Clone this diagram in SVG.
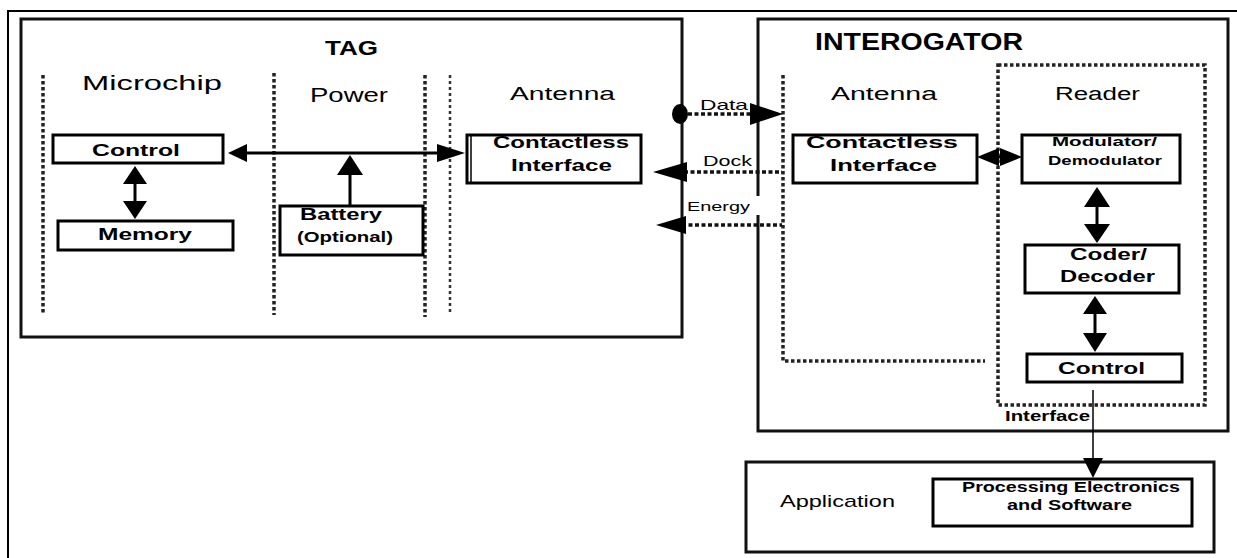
<svg xmlns="http://www.w3.org/2000/svg" width="1237" height="558" viewBox="0 0 1237 558">
<style>
.frame{fill:none;stroke:#000;stroke-width:2}
.cont{fill:none;stroke:#111;stroke-width:3}
.box{fill:#fff;stroke:#000;stroke-width:3}
.dot{fill:none;stroke:#222;stroke-width:3.5;stroke-dasharray:3.5 2.5}
.dot2{fill:none;stroke:#333;stroke-width:2.5;stroke-dasharray:3 3}
.conn{fill:none;stroke:#000;stroke-width:3}
.thin{fill:none;stroke:#000;stroke-width:1.5}
.dline{fill:none;stroke:#111;stroke-width:3.5;stroke-dasharray:4 2.5}
.head{fill:#000}
text{font-family:"Liberation Sans",Arial,sans-serif;fill:#000}
.b{font-weight:bold}
</style>
<rect width="1237" height="558" fill="#fff"/>
<g id="outer-frame">
<path class="frame" d="M8,558 V11 H1237"/>
</g>
<g id="tag">
<rect class="cont" x="21" y="19" width="661" height="318"/>
<text class="b" x="325" y="55" font-size="20" textLength="53" lengthAdjust="spacingAndGlyphs">TAG</text>
</g>
<g id="tag-sections">
<line class="dot" x1="43" y1="75" x2="43" y2="315"/>
<line class="dot" x1="274" y1="73" x2="274" y2="315"/>
<line class="dot" x1="425" y1="75" x2="425" y2="317"/>
<line class="dot2" x1="450" y1="75" x2="450" y2="314"/>
<text x="82" y="90" font-size="21" textLength="140" lengthAdjust="spacingAndGlyphs">Microchip</text>
<text x="310" y="102" font-size="20" textLength="78" lengthAdjust="spacingAndGlyphs">Power</text>
<text x="510" y="100" font-size="18" textLength="105" lengthAdjust="spacingAndGlyphs">Antenna</text>
</g>
<g id="interrogator">
<rect class="cont" x="758" y="19" width="470" height="412"/>
<text class="b" x="815" y="50" font-size="24" textLength="208" lengthAdjust="spacingAndGlyphs">INTEROGATOR</text>
</g>
<g id="int-antenna-section">
<path class="dot" d="M783,75 V361 H985"/>
<text x="831" y="100" font-size="18" textLength="106" lengthAdjust="spacingAndGlyphs">Antenna</text>
</g>
<g id="reader">
<rect class="dot" x="998" y="65" width="207" height="340"/>
<text x="1055" y="100" font-size="18" textLength="85" lengthAdjust="spacingAndGlyphs">Reader</text>
</g>
<g id="application">
<rect class="cont" x="746" y="462" width="468" height="90"/>
<text x="780" y="507" font-size="17" textLength="115" lengthAdjust="spacingAndGlyphs">Application</text>
</g>
<g id="control-tag">
<rect class="box" x="53" y="135" width="170" height="28"/>
<text class="b" x="92" y="156" font-size="16" textLength="88" lengthAdjust="spacingAndGlyphs">Control</text>
</g>
<g id="memory">
<rect class="box" x="58" y="221" width="175" height="29"/>
<text class="b" x="98" y="240" font-size="16" textLength="94" lengthAdjust="spacingAndGlyphs">Memory</text>
</g>
<g id="battery">
<rect class="box" x="280" y="206" width="143" height="49"/>
<text class="b" x="300" y="220" font-size="16" textLength="82" lengthAdjust="spacingAndGlyphs">Battery</text>
<text class="b" x="297" y="242" font-size="14" textLength="96" lengthAdjust="spacingAndGlyphs">(Optional)</text>
</g>
<g id="contactless-tag">
<rect class="box" x="467" y="135" width="174" height="48"/>
<line x1="471" y1="136" x2="471" y2="182" stroke="#000" stroke-width="1.5"/>
<text class="b" x="493" y="148" font-size="17" textLength="136" lengthAdjust="spacingAndGlyphs">Contactless</text>
<text class="b" x="511" y="171" font-size="17" textLength="101" lengthAdjust="spacingAndGlyphs">Interface</text>
</g>
<g id="contactless-int">
<rect class="box" x="793" y="135" width="184" height="48"/>
<text class="b" x="806" y="148" font-size="17" textLength="152" lengthAdjust="spacingAndGlyphs">Contactless</text>
<text class="b" x="830" y="171" font-size="17" textLength="107" lengthAdjust="spacingAndGlyphs">Interface</text>
</g>
<g id="modulator">
<rect class="box" x="1022" y="135" width="158" height="48"/>
<text class="b" x="1052" y="146" font-size="13" textLength="105" lengthAdjust="spacingAndGlyphs">Modulator/</text>
<text class="b" x="1048" y="165" font-size="13" textLength="114" lengthAdjust="spacingAndGlyphs">Demodulator</text>
</g>
<g id="coder">
<rect class="box" x="1025" y="245" width="154" height="48"/>
<text class="b" x="1070" y="260" font-size="17" textLength="77" lengthAdjust="spacingAndGlyphs">Coder/</text>
<text class="b" x="1060" y="282" font-size="17" textLength="95" lengthAdjust="spacingAndGlyphs">Decoder</text>
</g>
<g id="control-reader">
<rect class="box" x="1027" y="354" width="155" height="28"/>
<text class="b" x="1058" y="374" font-size="17" textLength="87" lengthAdjust="spacingAndGlyphs">Control</text>
</g>
<g id="processing">
<rect class="box" x="933" y="479" width="259" height="47"/>
<text class="b" x="962" y="492" font-size="15" textLength="218" lengthAdjust="spacingAndGlyphs">Processing Electronics</text>
<text class="b" x="1007" y="510" font-size="15" textLength="125" lengthAdjust="spacingAndGlyphs">and Software</text>
</g>
<g id="connectors">
<line class="conn" x1="240" y1="153" x2="445" y2="153"/>
<polygon class="head" points="228,153 247,144 247,162"/>
<polygon class="head" points="465,153 437,144 437,162"/>
<line class="conn" x1="350" y1="206" x2="350" y2="168"/>
<polygon class="head" points="350,155 337,175 363,175"/>
<line class="conn" x1="135" y1="178" x2="135" y2="206"/>
<polygon class="head" points="135,166 123,184 147,184"/>
<polygon class="head" points="135,219 123,201 147,201"/>
<line class="dline" x1="688" y1="114" x2="752" y2="114"/>
<ellipse class="head" cx="680" cy="114" rx="8" ry="10"/>
<polygon class="head" points="783,114 750,103 750,125"/>
<line class="dline" x1="684" y1="172" x2="782" y2="172"/>
<polygon class="head" points="653,172 687,162 687,182"/>
<rect x="684" y="196" width="76" height="19" fill="#fff"/>
<line class="dline" x1="682" y1="225" x2="782" y2="225"/>
<polygon class="head" points="656,225 686,216 686,234"/>
<line class="conn" x1="990" y1="157" x2="1010" y2="157"/>
<polygon class="head" points="977,157 999,148 999,166"/>
<polygon class="head" points="1022,157 1000,148 1000,166"/>
<line class="conn" x1="1097" y1="200" x2="1097" y2="230"/>
<polygon class="head" points="1097,187 1084,207 1110,207"/>
<polygon class="head" points="1097,243 1084,224 1110,224"/>
<line class="conn" x1="1095" y1="308" x2="1095" y2="338"/>
<polygon class="head" points="1095,296 1083,314 1107,314"/>
<polygon class="head" points="1095,352 1083,333 1107,333"/>
<line class="thin" x1="1093" y1="390" x2="1093" y2="462"/>
<polygon class="head" points="1093,478 1083,458 1103,458"/>
</g>
<g id="connector-labels">
<text x="700" y="110" font-size="15" textLength="48" lengthAdjust="spacingAndGlyphs">Data</text>
<text x="703" y="166" font-size="15" textLength="49" lengthAdjust="spacingAndGlyphs">Dock</text>
<text x="687" y="211" font-size="12" textLength="63" lengthAdjust="spacingAndGlyphs">Energy</text>
<text class="b" x="1005" y="421" font-size="14" textLength="85" lengthAdjust="spacingAndGlyphs">Interface</text>
</g>
</svg>
